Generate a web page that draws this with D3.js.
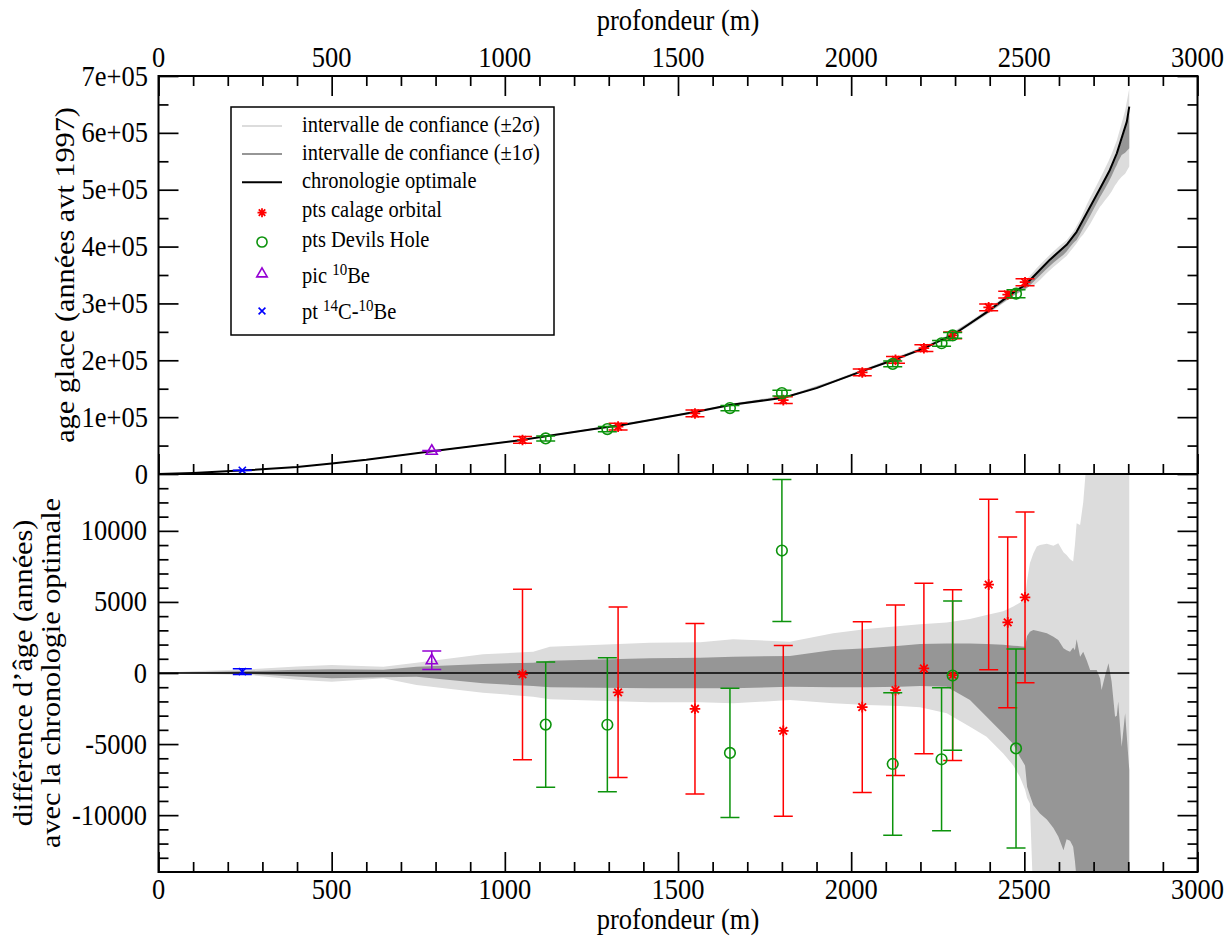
<!DOCTYPE html>
<html><head><meta charset="utf-8">
<script src="https://cdn.jsdelivr.net/npm/d3@7"></script>
<style>body{margin:0;background:#fff}</style>
</head><body><svg id="c" width="1232" height="939" style="display:block;background:#fff"></svg>
<script>
// ---------- DATA ----------
const depthTicks = [0, 500, 1000, 1500, 2000, 2500, 3000];
const depthTickLabels = ["0", "500", "1000", "1500", "2000", "2500", "3000"];
const ageTicks = [0, 100000, 200000, 300000, 400000, 500000, 600000, 700000];
const ageTickLabels = ["0", "1e+05", "2e+05", "3e+05", "4e+05", "5e+05", "6e+05", "7e+05"];
const diffTicks = [-10000, -5000, 0, 5000, 10000];
const diffTickLabels = ["-10000", "-5000", "0", "5000", "10000"];

// optimal chronology (depth m, age yr)
const chronDepth = [0, 100, 250, 400, 500, 600, 789, 900, 1051, 1118, 1296, 1328, 1549, 1650, 1804, 1900, 1948, 2032, 2120, 2210, 2261, 2293, 2397, 2452, 2476, 2502, 2574, 2622, 2651, 2719, 2747, 2767, 2796, 2803];
const chronAge = [0, 1800, 6400, 12500, 18500, 25000, 40000, 48500, 60000, 66200, 82600, 84700, 109000, 121500, 134000, 151000, 162000, 181000, 200000, 221000, 236000, 244000, 287000, 312000, 322500, 332000, 377000, 403000, 426000, 502500, 534700, 564000, 619700, 646000];

// confidence intervals, offsets from the chronology (yr)
const bandDepth = [0, 100, 264, 400, 500, 649, 745, 937, 1082, 1130, 1419, 1564, 1659, 1823, 1948, 2045, 2141, 2199, 2276, 2343, 2391, 2439, 2468, 2487, 2502, 2508, 2516, 2526, 2536, 2545, 2565, 2584, 2598, 2613, 2622, 2632, 2641, 2646, 2651, 2661, 2670, 2680, 2690, 2709, 2719, 2723, 2733, 2743, 2752, 2762, 2767, 2771, 2781, 2791, 2803];
const band2Hi = [0, 120, 260, 450, 563, 446, 727, 1315, 1502, 1855, 2136, 2160, 2370, 2207, 2793, 3098, 3310, 3427, 3550, 3800, 4084, 4350, 4672, 4950, 5258, 6500, 7723, 8400, 8897, 9000, 9085, 8944, 9131, 8500, 8310, 8000, 7840, 9000, 10540, 10420, 12000, 15000, 16000, 17000, 17500, 18000, 19000, 20000, 21000, 22000, 22500, 23500, 26000, 29000, 32000];
const band1Hi = [0, 60, 141, 220, 258, 230, 446, 634, 727, 868, 1033, 1080, 1150, 1197, 1620, 1737, 1925, 2042, 2080, 2070, 2042, 1990, 1925, 1890, 1855, 2600, 2900, 3028, 2970, 2911, 2793, 2559, 2324, 1737, 1600, 1502, 1800, 1600, 2370, 1150, 1502, 900, 211, 211, -400, -1197, -200, 680, -600, -3075, -3000, -2000, -5188, -2840, -6830];
const band1Lo = [0, -40, -70, -250, -375, -300, -258, -727, -915, -1009, -1080, -1080, -1080, -962, -1009, -1000, -962, -915, -960, -1900, -3075, -4248, -5000, -5892, -6500, -8000, -8600, -9300, -9600, -9883, -10300, -10900, -11500, -12464, -11700, -11800, -12230, -13200, -14500, -15000, -15200, -15500, -15500, -15200, -15000, -15500, -16500, -17000, -18000, -19000, -20500, -22000, -30000, -45000, -73000];
const band2Lo = [0, -60, -141, -480, -610, -375, -845, -1385, -1667, -1855, -2066, -2066, -2136, -1900, -2136, -2253, -2324, -2418, -2840, -3780, -4484, -5657, -6500, -7300, -8200, -8800, -9178, -16000, -17000, -17500, -18000, -18500, -19000, -19000, -19500, -19500, -20000, -20000, -20000, -22000, -26000, -28000, -30000, -31000, -32000, -34000, -37000, -41000, -45000, -49000, -52000, -56000, -68000, -82000, -105000];

// orbital tuning points
const orbDepth = [1051, 1327, 1549, 1804, 2032, 2128, 2210, 2293, 2397, 2452, 2502];
const orbAge = [59900, 83250, 106500, 129900, 178600, 200800, 221300, 243850, 293200, 315600, 337300];
const orbDiff = [-100, -1360, -2520, -4070, -2400, -1210, 320, -150, 6220, 3560, 5320];
const orbErr = [6000, 6000, 6000, 6000, 6000, 6000, 6000, 6000, 6000, 6000, 6000];

// Devils Hole points
const dhDepth = [1118, 1296, 1650, 1800, 2120, 2261, 2293, 2476];
const dhAge = [62570, 78960, 115880, 142300, 193600, 229930, 243800, 317200];
const dhDiff = [-3630, -3640, -5620, 8615, -6400, -6070, -180, -5305];
const dhErr = [4400, 4720, 4540, 5000, 5010, 5035, 5250, 7000];

// 10Be peak
const beDepth = [789];
const beAge = [40900];
const beDiff = [900];
const beErr = [650];

// 14C-10Be point
const cbDepth = [242];
const cbAge = [6500];
const cbDiff = [100];
const cbErr = [200];

// ---------- DRAWING ----------
const FONT = '"Liberation Serif","Times New Roman",Times,serif';
const RED = "#ff0000", GREEN = "#0c930c", PURPLE = "#9400d3", BLUE = "#0000ff";
const LIGHT = "#dcdcdc", DARK = "#969696";
const svg = d3.select("#c");

const X0 = 158.5, X1 = 1197.5, T0 = 76, TB = 474, B1 = 872;
const x = d3.scaleLinear().domain([0, 3000]).range([X0, X1]);
const yTop = d3.scaleLinear().domain([0, 700000]).range([TB, T0]);
const yBot = d3.scaleLinear().domain([-14000, 14000]).range([B1, TB]);
const chron = d3.scaleLinear().domain(chronDepth).range(chronAge);

function txt(g, s, px, py, size, anchor, rot) {
  const t = g.append("text")
    .attr("transform", rot ? `translate(${px},${py}) rotate(-90) scale(1.1,1)` : `translate(${px},${py}) scale(1,1.1)`)
    .attr("font-family", FONT).attr("font-size", size)
    .attr("text-anchor", anchor || "start").attr("fill", "#000");
  if (s !== null) t.text(s);
  return t;
}

// clip paths
const defs = svg.append("defs");
defs.append("clipPath").attr("id", "clipTop").append("rect").attr("x", X0).attr("y", T0).attr("width", X1 - X0).attr("height", TB - T0);
defs.append("clipPath").attr("id", "clipBot").append("rect").attr("x", X0).attr("y", TB).attr("width", X1 - X0).attr("height", B1 - TB);

const idx = d3.range(bandDepth.length);

// ---- top panel bands & line
const gTop = svg.append("g").attr("clip-path", "url(#clipTop)");
const areaTop = (lo, hi) => d3.area()
  .x(i => x(bandDepth[i]))
  .y0(i => yTop(chron(bandDepth[i]) + lo[i]))
  .y1(i => yTop(chron(bandDepth[i]) + hi[i]));
gTop.append("path").attr("d", areaTop(band2Lo, band2Hi)(idx)).attr("fill", LIGHT);
gTop.append("path").attr("d", areaTop(band1Lo, band1Hi)(idx)).attr("fill", DARK);
gTop.append("path")
  .attr("d", d3.line().x(i => x(chronDepth[i])).y(i => yTop(chronAge[i]))(d3.range(chronDepth.length)))
  .attr("fill", "none").attr("stroke", "#000").attr("stroke-width", 2).attr("stroke-linejoin", "round");

// ---- bottom panel bands & zero line
const gBot = svg.append("g").attr("clip-path", "url(#clipBot)");
const areaBot = (lo, hi) => d3.area()
  .x(i => x(bandDepth[i]))
  .y0(i => yBot(lo[i]))
  .y1(i => yBot(hi[i]));
gBot.append("path").attr("d", areaBot(band2Lo, band2Hi)(idx)).attr("fill", LIGHT);
gBot.append("path").attr("d", areaBot(band1Lo, band1Hi)(idx)).attr("fill", DARK);
gBot.append("path")
  .attr("d", d3.line().x(d => x(d)).y(() => yBot(0))([chronDepth[0], chronDepth[chronDepth.length - 1]]))
  .attr("stroke", "#000").attr("stroke-width", 1.5);

// ---- symbols
function sym(g, kind, cx, cy, color, s) {
  s = s || 1;
  if (kind === "star") {
    const r = 5.3 * s, d = r * 0.72;
    g.append("path").attr("d", `M${cx - r},${cy}H${cx + r}M${cx},${cy - r}V${cy + r}M${cx - d},${cy - d}L${cx + d},${cy + d}M${cx - d},${cy + d}L${cx + d},${cy - d}`)
      .attr("stroke", color).attr("stroke-width", 1.8).attr("fill", "none");
  } else if (kind === "circle") {
    g.append("circle").attr("cx", cx).attr("cy", cy).attr("r", 5.3 * s).attr("fill", "none").attr("stroke", color).attr("stroke-width", 1.6);
  } else if (kind === "tri") {
    g.append("path").attr("d", `M${cx},${cy - 6 * s}L${cx + 5.5 * s},${cy + 3.5 * s}L${cx - 5.5 * s},${cy + 3.5 * s}Z`)
      .attr("fill", "none").attr("stroke", color).attr("stroke-width", 1.6);
  } else if (kind === "x") {
    const r = 3.6 * s;
    g.append("path").attr("d", `M${cx - r},${cy - r}L${cx + r},${cy + r}M${cx - r},${cy + r}L${cx + r},${cy - r}`)
      .attr("stroke", color).attr("stroke-width", 1.6);
  }
}

function series(g, depths, vals, errs, yS, color, kind) {
  depths.forEach((dp, i) => {
    const cx = x(dp), lo = yS(vals[i] - errs[i]), hi = yS(vals[i] + errs[i]);
    g.append("path").attr("d", `M${cx},${lo}V${hi}M${cx - 9.5},${lo}H${cx + 9.5}M${cx - 9.5},${hi}H${cx + 9.5}`)
      .attr("stroke", color).attr("stroke-width", 1.5).attr("fill", "none");
    sym(g, kind, cx, yS(vals[i]), color);
  });
}
const gPts = svg.append("g");
// top panel
series(gPts, cbDepth, cbAge, cbErr, yTop, BLUE, "x");
series(gPts, beDepth, beAge, beErr, yTop, PURPLE, "tri");
series(gPts, orbDepth, orbAge, orbErr, yTop, RED, "star");
series(gPts, dhDepth, dhAge, dhErr, yTop, GREEN, "circle");
// bottom panel
series(gPts, cbDepth, cbDiff, cbErr, yBot, BLUE, "x");
series(gPts, beDepth, beDiff, beErr, yBot, PURPLE, "tri");
series(gPts, orbDepth, orbDiff, orbErr, yBot, RED, "star");
series(gPts, dhDepth, dhDiff, dhErr, yBot, GREEN, "circle");

// ---- axes (ticks via d3.axis)
function ticks(axisGen, scale, vals, size, tx, ty) {
  const g = svg.append("g").attr("transform", `translate(${tx},${ty})`)
    .call(axisGen(scale).tickValues(vals).tickSize(size).tickFormat(""));
  g.select(".domain").remove();
  g.selectAll("line").attr("stroke", "#000").attr("stroke-width", 1.7);
}
const minorDepth = d3.range(0, 3001, 100).filter(v => v % 500 !== 0);
const minorAge = d3.range(50000, 700000, 100000);
const minorDiff = d3.range(-13000, 14000, 1000).filter(v => v % 5000 !== 0);

// top panel
ticks(d3.axisTop, x, depthTicks, -20, 0, T0);
ticks(d3.axisTop, x, minorDepth, -10, 0, T0);
ticks(d3.axisBottom, x, depthTicks, -20, 0, TB);
ticks(d3.axisBottom, x, minorDepth, -10, 0, TB);
ticks(d3.axisLeft, yTop, ageTicks, -20, X0, 0);
ticks(d3.axisLeft, yTop, minorAge, -10, X0, 0);
ticks(d3.axisRight, yTop, ageTicks, -20, X1, 0);
ticks(d3.axisRight, yTop, minorAge, -10, X1, 0);
// bottom panel
ticks(d3.axisBottom, x, depthTicks, -20, 0, B1);
ticks(d3.axisBottom, x, minorDepth, -10, 0, B1);
ticks(d3.axisLeft, yBot, diffTicks, -20, X0, 0);
ticks(d3.axisLeft, yBot, minorDiff, -10, X0, 0);
ticks(d3.axisRight, yBot, diffTicks, -20, X1, 0);
ticks(d3.axisRight, yBot, minorDiff, -10, X1, 0);

// frames
svg.append("rect").attr("x", X0).attr("y", T0).attr("width", X1 - X0).attr("height", B1 - T0)
  .attr("fill", "none").attr("stroke", "#000").attr("stroke-width", 2);
svg.append("line").attr("x1", X0).attr("x2", X1).attr("y1", TB).attr("y2", TB).attr("stroke", "#000").attr("stroke-width", 2);

// tick labels
const gl = svg.append("g");
const TS = 26.5;
depthTicks.forEach((v, i) => {
  txt(gl, depthTickLabels[i], x(v), 66.5, TS, "middle");
  txt(gl, depthTickLabels[i], x(v), 898.5, TS, "middle");
});
ageTicks.forEach((v, i) => txt(gl, ageTickLabels[i], 148, yTop(v) + 9.5, TS, "end"));
diffTicks.forEach((v, i) => txt(gl, diffTickLabels[i], 147, yBot(v) + 9.5, TS, "end"));

// axis titles
txt(gl, "profondeur (m)", (X0 + X1) / 2, 30, TS, "middle");
txt(gl, "profondeur (m)", (X0 + X1) / 2, 929, TS, "middle");
txt(gl, "age glace (années avt 1997)", 74, (T0 + TB) / 2, 27.5, "middle", true);
txt(gl, "différence d’âge (années)", 32, (TB + B1) / 2, 27.5, "middle", true);
txt(gl, "avec la chronologie optimale", 60, (TB + B1) / 2, 27.5, "middle", true);

// ---- legend
const legendLabels = ["intervalle de confiance (±2σ)", "intervalle de confiance (±1σ)", "chronologie optimale", "pts calage orbital", "pts Devils Hole"];
const lg = svg.append("g");
lg.append("rect").attr("x", 231).attr("y", 107).attr("width", 323).attr("height", 228)
  .attr("fill", "#fff").attr("stroke", "#000").attr("stroke-width", 1.5);
const LS = 20.5;
[[LIGHT, 126], [DARK, 154], ["#000", 182.3]].forEach(([c, yy], i) => {
  lg.append("line").attr("x1", 242).attr("x2", 282).attr("y1", yy).attr("y2", yy).attr("stroke", c).attr("stroke-width", 2);
  txt(lg, legendLabels[i], 302, yy + 5.5, LS, "start");
});
sym(lg, "star", 262, 212.7, RED, 0.85);
txt(lg, legendLabels[3], 302, 217, LS, "start");
sym(lg, "circle", 262, 242, GREEN, 0.95);
txt(lg, legendLabels[4], 302, 246.5, LS, "start");
sym(lg, "tri", 262, 273.5, PURPLE, 0.95);
const t6 = txt(lg, null, 302, 283, LS, "start");
t6.append("tspan").text("pic ");
t6.append("tspan").attr("font-size", 15).attr("dy", -7).text("10");
t6.append("tspan").attr("dy", 7).text("Be");
sym(lg, "x", 262, 311, BLUE, 0.95);
const t7 = txt(lg, null, 302, 318.5, LS, "start");
t7.append("tspan").text("pt ");
t7.append("tspan").attr("font-size", 15).attr("dy", -7).text("14");
t7.append("tspan").attr("dy", 7).text("C-");
t7.append("tspan").attr("font-size", 15).attr("dy", -7).text("10");
t7.append("tspan").attr("dy", 7).text("Be");
</script></body></html>
